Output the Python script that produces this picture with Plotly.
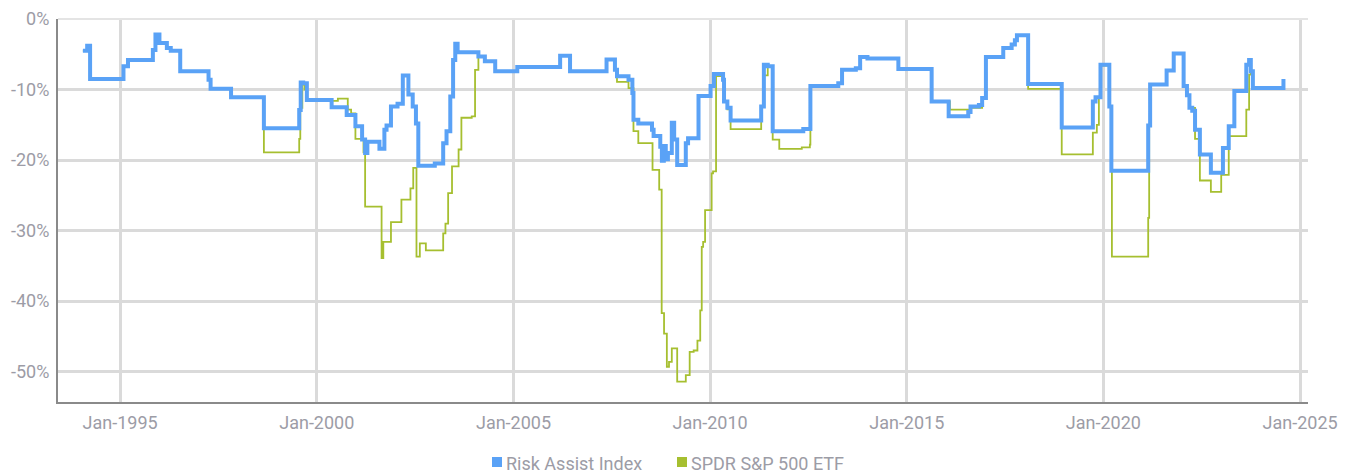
import plotly.graph_objects as go

# ---- Data (drawdown %, step changes) ----
risk_dates = [
    "1994-01-20", "1994-03-01", "1994-03-28", "1995-02-01", "1995-03-15", "1995-11-01", "1995-11-25",
    "1996-01-01", "1996-03-10", "1996-04-15", "1996-07-12", "1997-04-01", "1997-04-20", "1997-10-27",
    "1998-08-28", "1999-07-22", "1999-08-05", "1999-08-28", "1999-10-01", "2000-05-18", "2000-10-05",
    "2000-12-25", "2001-02-25", "2001-03-25", "2001-04-15", "2001-08-05", "2001-09-20", "2001-10-10",
    "2001-11-20", "2002-01-20", "2002-03-10", "2002-05-01", "2002-06-10", "2002-07-10", "2002-08-01",
    "2003-01-01", "2003-03-20", "2003-04-20", "2003-05-25", "2003-06-20", "2003-07-10", "2003-08-01",
    "2004-02-10", "2004-04-10", "2004-07-15", "2005-02-05", "2006-03-10", "2006-06-10", "2007-05-15",
    "2007-08-01", "2007-08-20", "2007-12-05", "2008-01-10", "2008-01-20", "2008-03-05", "2008-07-10",
    "2008-07-25", "2008-09-25", "2008-10-10", "2008-10-28", "2008-11-15", "2008-12-05", "2009-01-10",
    "2009-02-01", "2009-03-01", "2009-05-20", "2009-06-10", "2009-09-15", "2010-01-05", "2010-02-05",
    "2010-05-01", "2010-05-10", "2010-06-10", "2010-07-10", "2011-04-20", "2011-05-15", "2011-06-20",
    "2011-08-05", "2012-05-15", "2012-07-20", "2013-04-05", "2013-05-10", "2013-09-15", "2013-10-25",
    "2014-01-01", "2014-10-15", "2015-08-20", "2016-01-25", "2016-07-25", "2016-08-15", "2016-11-01",
    "2016-12-01", "2017-01-05", "2017-06-15", "2017-09-01", "2017-10-01", "2017-10-20", "2018-02-01",
    "2018-12-10", "2019-09-25", "2019-10-20", "2019-12-05", "2020-02-25", "2020-03-15", "2021-02-20",
    "2021-03-10", "2021-08-10", "2021-10-15", "2022-01-15", "2022-02-15", "2022-03-10", "2022-04-05",
    "2022-05-01", "2022-06-15", "2022-09-25", "2023-01-15", "2023-03-10", "2023-05-01", "2023-08-20",
    "2023-09-15", "2023-10-01", "2023-10-20", "2024-07-30",
]
risk_values = [
    -4.5, -3.8, -8.5, -6.7, -5.8, -4.4, -2.2,
    -3.4, -4.1, -4.5, -7.4, -8.6, -9.9, -11.1,
    -15.5, -12.9, -9.0, -9.1, -11.5, -12.5, -13.6,
    -15.2, -17.1, -19.0, -17.4, -18.4, -15.7, -15.1,
    -12.4, -12.0, -8.0, -10.7, -12.4, -14.8, -20.8,
    -20.5, -17.6, -15.9, -11.0, -5.8, -3.5, -4.7,
    -5.3, -6.0, -7.4, -6.8, -5.2, -7.4, -5.75,
    -7.2, -8.1, -8.6, -10.5, -14.3, -14.8, -15.7,
    -16.6, -18.1, -20.1, -18.0, -19.9, -19.0, -14.7,
    -17.1, -20.7, -17.6, -16.9, -10.9, -9.5, -7.8,
    -8.6, -11.7, -12.6, -14.4, -12.4, -6.5, -6.7,
    -15.9, -15.6, -9.5, -9.1, -7.2, -7.0, -5.4,
    -5.6, -7.1, -11.7, -13.8, -13.2, -12.4, -12.2,
    -11.2, -5.4, -4.1, -3.6, -3.0, -2.3, -9.2,
    -15.4, -11.7, -11.1, -6.5, -12.4, -21.5, -15.1,
    -9.3, -7.3, -4.9, -9.5, -10.8, -12.6, -13.0,
    -15.7, -19.2, -21.8, -18.3, -15.2, -10.2, -6.5,
    -5.8, -7.4, -9.8, -8.5,
]

spy_dates = [
    "1994-01-20", "1994-03-01", "1994-03-28", "1995-02-01", "1995-03-15", "1995-11-01", "1995-11-25",
    "1996-01-01", "1996-03-10", "1996-04-15", "1996-07-12", "1997-04-01", "1997-04-20", "1997-10-27",
    "1998-08-28", "1999-07-22", "1999-08-01", "1999-08-20", "1999-09-10", "1999-10-01", "2000-05-18",
    "2000-07-15", "2000-10-15", "2000-11-15", "2000-12-25", "2001-03-10", "2001-03-25", "2001-08-25",
    "2001-09-10", "2001-11-20", "2002-02-25", "2002-05-20", "2002-06-15", "2002-07-15", "2002-08-15",
    "2002-10-10", "2003-03-20", "2003-04-10", "2003-05-05", "2003-06-10", "2003-08-10", "2003-09-05",
    "2003-12-10", "2004-01-10", "2004-02-10", "2004-04-10", "2004-07-15", "2005-02-05", "2006-03-10",
    "2006-06-10", "2007-05-15", "2007-08-01", "2007-08-20", "2007-12-05", "2008-01-20", "2008-03-05",
    "2008-07-15", "2008-09-15", "2008-10-08", "2008-10-30", "2008-11-25", "2008-12-15", "2009-01-10",
    "2009-03-01", "2009-05-20", "2009-06-25", "2009-08-01", "2009-09-05", "2009-10-01", "2009-10-15",
    "2009-10-28", "2009-11-15", "2010-01-15", "2010-01-28", "2010-02-25", "2010-05-01", "2010-05-10",
    "2010-06-10", "2010-07-10", "2011-04-20", "2011-05-15", "2011-06-20", "2011-08-05", "2011-10-05",
    "2012-05-01", "2012-07-15", "2012-07-20", "2013-04-05", "2013-05-10", "2013-09-15", "2013-10-25",
    "2014-01-01", "2014-10-15", "2015-08-20", "2016-02-05", "2016-08-15", "2016-12-01", "2017-01-05",
    "2017-06-15", "2017-09-01", "2017-10-01", "2017-10-20", "2018-02-01", "2018-12-10", "2019-09-25",
    "2019-11-01", "2019-11-20", "2019-12-05", "2020-02-25", "2020-03-20", "2021-02-20", "2021-03-01",
    "2021-03-15", "2021-08-10", "2021-10-15", "2022-01-15", "2022-02-15", "2022-03-10", "2022-05-01",
    "2022-06-15", "2022-09-25", "2022-12-30", "2023-03-10", "2023-08-20", "2023-09-15", "2023-10-01",
    "2023-10-20", "2024-07-30",
]
spy_values = [
    -4.5, -3.8, -8.5, -6.7, -5.8, -4.4, -2.2,
    -3.4, -4.1, -4.5, -7.4, -8.6, -9.9, -11.1,
    -18.9, -17.0, -12.6, -9.3, -10.0, -11.5, -11.6,
    -11.3, -12.85, -13.4, -17.0, -18.9, -26.6, -33.9,
    -31.6, -28.8, -25.6, -24.0, -21.1, -33.7, -31.8,
    -32.8, -30.4, -29.0, -24.7, -20.9, -18.5, -14.0,
    -13.8, -7.2, -5.3, -6.0, -7.4, -6.8, -5.2,
    -7.4, -5.75, -7.2, -8.9, -9.8, -15.9, -17.6,
    -21.4, -24.2, -41.7, -44.6, -49.3, -48.6, -46.7,
    -51.4, -50.5, -47.2, -47.0, -45.6, -41.3, -32.3,
    -31.6, -27.1, -21.9, -21.6, -8.1, -8.6, -11.7,
    -12.8, -15.6, -12.4, -8.0, -6.7, -17.1, -18.4,
    -18.2, -17.8, -9.5, -9.1, -7.2, -7.0, -5.4,
    -5.6, -7.1, -11.7, -12.85, -12.6, -11.2, -5.4,
    -4.1, -3.6, -3.0, -2.3, -9.9, -19.2, -16.1,
    -15.0, -11.1, -6.6, -12.4, -33.7, -28.2, -15.2,
    -9.3, -7.3, -4.9, -9.5, -10.8, -12.6, -17.0,
    -22.9, -24.5, -22.1, -16.6, -12.85, -7.9, -7.4,
    -9.8, -8.5,
]

series_names = ["Risk Assist Index", "SPDR S&P 500 ETF"]
x_tick_dates = ["1995-01-01", "2000-01-01", "2005-01-01", "2010-01-01", "2015-01-01", "2020-01-01", "2025-01-01"]
x_tick_labels = ["Jan-1995", "Jan-2000", "Jan-2005", "Jan-2010", "Jan-2015", "Jan-2020", "Jan-2025"]
y_tick_vals = [0, -10, -20, -30, -40, -50]
y_tick_labels = ["0%", "-10%", "-20%", "-30%", "-40%", "-50%"]

BLUE = "#5AA2F6"
GREEN = "#A6BF30"
FONT = "Roboto, sans-serif"
TXT = "#9c9ca6"

fig = go.Figure()
fig.add_trace(go.Scatter(x=spy_dates, y=spy_values, mode="lines", line=dict(color=GREEN, width=1.8, shape="hv"),
                         showlegend=False, name=series_names[1]))
fig.add_trace(go.Scatter(x=risk_dates, y=risk_values, mode="lines", line=dict(color=BLUE, width=4, shape="hv"),
                         showlegend=False, name=series_names[0]))

# legend: square swatch + text label for each series
legend_items = [(series_names[0], BLUE, 0.3472), (series_names[1], GREEN, 0.4952)]
for name, col, xpos in legend_items:
    fig.add_shape(type="rect", xref="paper", yref="paper", x0=xpos, x1=xpos + 0.008,
                  y0=-0.1697, y1=-0.1436, fillcolor=col, line=dict(width=0))
    fig.add_annotation(x=xpos + 0.0105, y=-0.160, xref="paper", yref="paper", xanchor="left", yanchor="middle",
                       showarrow=False, text=name, borderpad=0,
                       font=dict(family=FONT, size=18, color=TXT))

fig.update_layout(
    width=1346, height=468,
    margin=dict(l=50, r=46, t=11, b=74, autoexpand=False),
    plot_bgcolor="white", paper_bgcolor="white",
    font=dict(family=FONT, size=18, color=TXT),
    showlegend=False,
    xaxis=dict(
        type="date", range=["1993-06-03", "2025-03-15"],
        tickvals=x_tick_dates, ticktext=x_tick_labels,
        showgrid=True, gridcolor="#dadada", gridwidth=3,
        showline=True, linecolor="#8a8a8a", linewidth=2,
        ticks="", ticklabelstandoff=3, zeroline=False, automargin=False,
    ),
    yaxis=dict(
        range=[-54.3, 0], tickvals=y_tick_vals, ticktext=y_tick_labels,
        showgrid=True, gridcolor="#dadada", gridwidth=3,
        showline=True, linecolor="#8a8a8a", linewidth=2,
        ticks="", ticklabelstandoff=3,
        zeroline=True, zerolinecolor="#e4e4e4", zerolinewidth=1.5, automargin=False,
    ),
)

fig.write_html("out.html")
